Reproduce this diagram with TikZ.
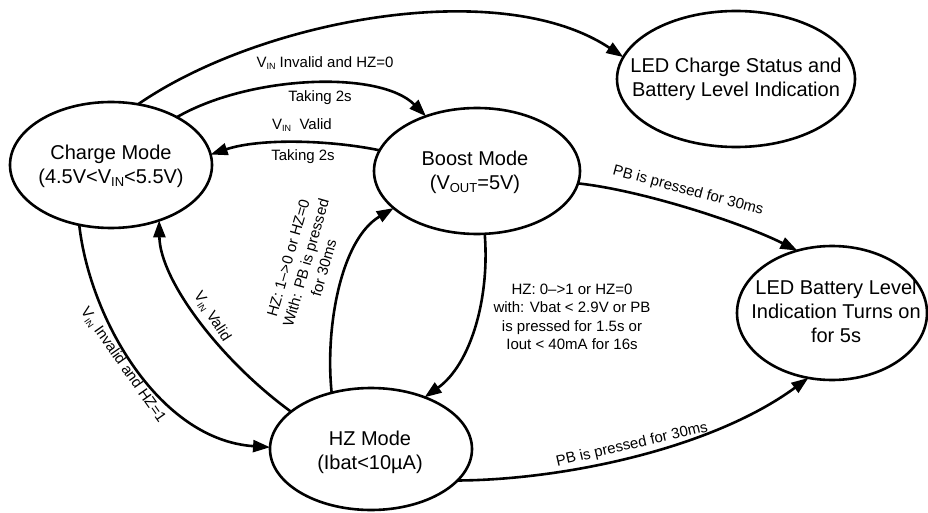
\documentclass[tikz,border=0pt]{standalone}
\usepackage{fontspec}
\setmainfont{Liberation Sans}
\usetikzlibrary{arrows.meta,shapes.geometric}
\newcommand\mysub[1]{\raisebox{-0.3ex}{\scalebox{0.65}{#1}}}
\newcommand\lblsub[1]{\raisebox{-0.35ex}{\scalebox{0.6}{#1}}}
\begin{document}
\begin{tikzpicture}[x=1pt,y=-1pt,
  state/.style={draw, ellipse, line width=2.6pt, inner sep=0pt, outer sep=0pt},
  stxt/.style={align=center, font=\fontsize{20}{24}\selectfont, inner sep=0pt},
  lbl/.style={align=center, font=\fontsize{15}{18.5}\selectfont, inner sep=0pt},
  conn/.style={line width=2.6pt, -{Triangle[length=17pt,width=12pt]}}]
\useasboundingbox (0,0) rectangle (928,513);
\fill[white] (0,0) rectangle (928,513);
% states
\node[state, minimum width=202pt, minimum height=126pt] (charge) at (111,165) {};
\node[state, minimum width=206pt, minimum height=126pt] (boost) at (477,171) {};
\node[state, minimum width=238pt, minimum height=136pt] (ledc) at (736,79) {};
\node[state, minimum width=202pt, minimum height=122pt] (hz) at (371,449) {};
\node[state, minimum width=190pt, minimum height=134pt] (ledb) at (832,313) {};
\node[stxt] (chargeT) at (111,166) {Charge Mode\\(4.5V<V\mysub{IN}<5.5V)};
\node[stxt] (boostT) at (475,172) {Boost Mode\\(V\mysub{OUT}=5V)};
\node[stxt] (ledcT) at (736,79) {LED Charge Status and\\Battery Level Indication};
\node[stxt] (hzT) at (370,452) {HZ Mode\\(Ibat<10µA)};
\node[stxt] (ledbT) at (836,311) {LED Battery Level\\Indication Turns on\\for 5s};
% connectors
\draw[conn] (charge.66) .. controls (260,20) and (500,-25) .. (ledc.169);
\draw[conn] (charge.36) .. controls (250,75) and (380,70) .. (boost.133);
\draw[conn] (boost.168) .. controls (330,140) and (260,138) .. (charge.6);
\draw[conn] (boost.-7) .. controls (640,190) and (740,222) .. (ledb.119);
\draw[conn] (boost.-83) .. controls (490,300) and (470,365) .. (hz.44);
\draw[conn] (hz.125) .. controls (325,330) and (340,240) .. (boost.-156);
\draw[conn] (hz.155) .. controls (220,360) and (160,280) .. (charge.-49);
\draw[conn] (charge.-118) .. controls (90,320) and (160,440) .. (hz.179);
\draw[conn] (hz.-20) .. controls (560,480) and (710,450) .. (ledb.-110);
% labels
\node[lbl] (l1) at (325,63) {V\lblsub{IN} Invalid and HZ=0};
\node[lbl] (l2) at (320,98) {Taking 2s};
\node[lbl] (l3) at (302,125) {V\lblsub{IN}\ \ Valid};
\node[lbl] (l4) at (303,157) {Taking 2s};
\node[lbl, rotate=-15] (l5) at (688,191) {PB is pressed for 30ms};
\node[lbl] (l6) at (572,317) {HZ: 0--{>}1 or HZ=0\\with: Vbat < 2.9V or PB\\is pressed for 1.5s or\\Iout < 40mA for 16s};
\node[lbl, rotate=74] (l7) at (306,263) {HZ: 1--{>}0 or HZ=0\\With: PB is pressed\\for 30ms};
\node[lbl, rotate=-57] (l8) at (212,317) {V\lblsub{IN} Valid};
\node[lbl, rotate=-55] (l9) at (123,365) {V\lblsub{IN} Invalid and HZ=1};
\node[lbl, rotate=13] (l10) at (632,445) {PB is pressed for 30ms};
\end{tikzpicture}
\end{document}
